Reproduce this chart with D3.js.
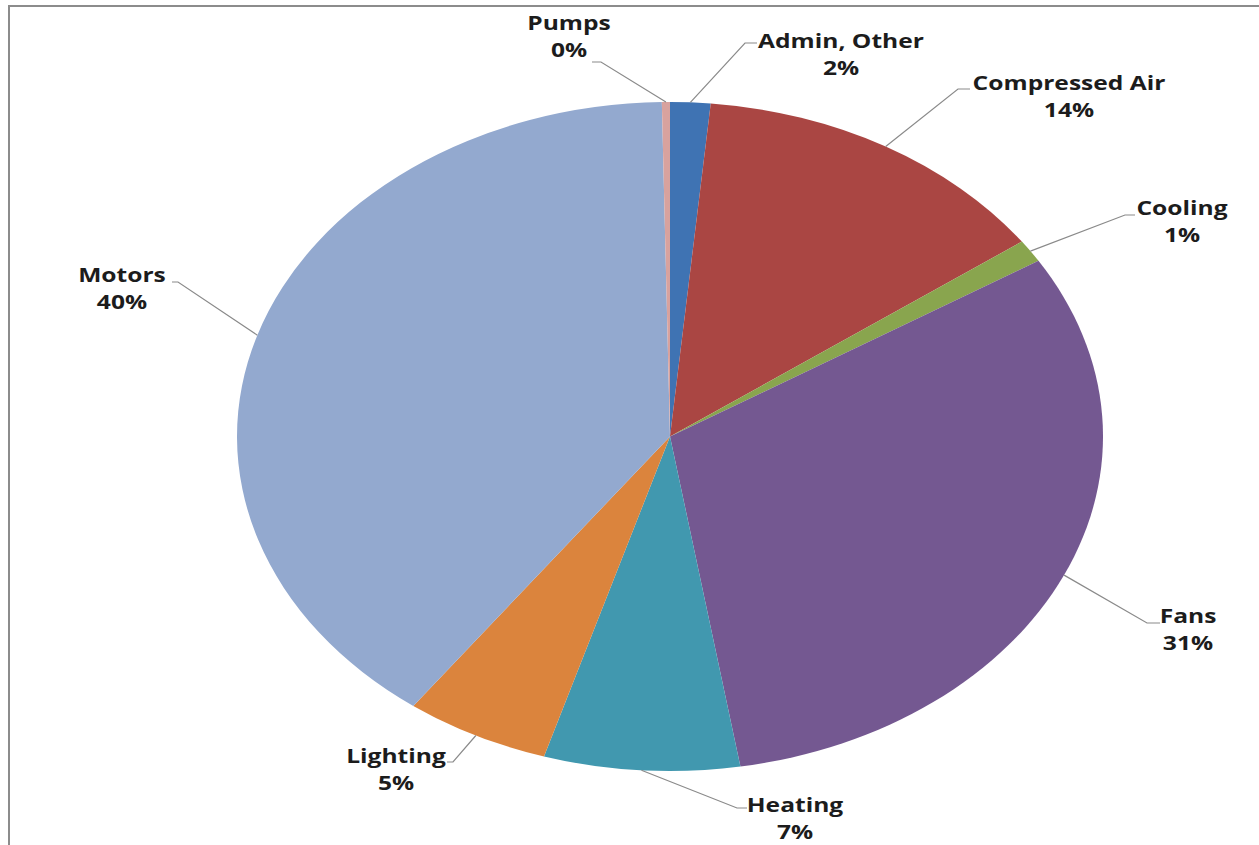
<!DOCTYPE html>
<html>
<head>
<meta charset="utf-8">
<script src="https://cdn.jsdelivr.net/npm/d3@7/dist/d3.min.js"></script>
<style>
  html, body { margin: 0; padding: 0; background: #fff; }
  svg { display: block; }
</style>
</head>
<body>
<svg id="chart" width="1259" height="845"></svg>
<script>
// ---- data ----
const categories = ["Admin, Other", "Compressed Air", "Cooling", "Fans", "Heating", "Lighting", "Motors", "Pumps"];
const values = [1.5, 13.6, 1.1, 31.2, 7.3, 5.4, 39.6, 0.3];
const colors = ["#3F73B3", "#AA4643", "#89A54E", "#745891", "#4198AF", "#DB843D", "#93A9CF", "#D8A29E"];

// ---- layout (label placement) ----
const labelLayout = {
  "Admin, Other":   { tx: 841,  ty: 48,  ex: 745,  ey: 43,  hx: 757 },
  "Compressed Air": { tx: 1069, ty: 90,  ex: 958,  ey: 89,  hx: 970 },
  "Cooling":        { tx: 1182, ty: 215, ex: 1125, ey: 215, hx: 1135 },
  "Fans":           { tx: 1188, ty: 623, ex: 1147, ey: 623, hx: 1160 },
  "Heating":        { tx: 795,  ty: 812, ex: 737,  ey: 808, hx: 747 },
  "Lighting":       { tx: 396,  ty: 763, ex: 453,  ey: 762, hx: 447 },
  "Motors":         { tx: 122,  ty: 282, ex: 178,  ey: 282, hx: 172 },
  "Pumps":          { tx: 569,  ty: 30,  ex: 601,  ey: 62,  hx: 592 }
};

const W = 1259, H = 845;
const cx = 670, cy = 436.5, rx = 433, ry = 334.5;
const sx = rx / ry;
const lineGap = 27;

const svg = d3.select("#chart");

// chart border
svg.append("rect")
  .attr("x", 9).attr("y", 6)
  .attr("width", W + 20).attr("height", H + 20)
  .attr("fill", "#fff")
  .attr("stroke", "#8c8c8c")
  .attr("stroke-width", 2);

const data = categories.map((c, i) => ({ name: c, value: values[i], color: colors[i] }));

const pie = d3.pie().sort(null).value(d => d.value).startAngle(0).endAngle(2 * Math.PI);
const arcs = pie(data);
const arc = d3.arc().innerRadius(0).outerRadius(ry);

const pieG = svg.append("g")
  .attr("transform", `translate(${cx},${cy}) scale(${sx},1)`);

pieG.selectAll("path")
  .data(arcs)
  .join("path")
  .attr("d", arc)
  .attr("fill", d => d.data.color);

// leader lines
const line = d3.line();
svg.append("g").selectAll("path")
  .data(arcs)
  .join("path")
  .attr("d", d => {
    const a = (d.startAngle + d.endAngle) / 2;
    const p0 = [cx + rx * Math.sin(a), cy - ry * Math.cos(a)];
    const L = labelLayout[d.data.name];
    return line([p0, [L.ex, L.ey], [L.hx, L.ey]]);
  })
  .attr("fill", "none")
  .attr("stroke", "#8a8a8a")
  .attr("stroke-width", 1.2);

// labels
const fmt = v => Math.round(v) + "%";
const labG = svg.append("g")
  .attr("font-family", "'Open Sans', sans-serif")
  .attr("font-weight", "bold")
  .attr("font-size", 19)
  .attr("fill", "#1c1c1c");

arcs.forEach(d => {
  const L = labelLayout[d.data.name];
  const g = labG.append("g")
    .attr("transform", `translate(${L.tx},${L.ty}) scale(${sx},1)`);
  g.append("text").attr("text-anchor", "middle").attr("y", 0).text(d.data.name);
  g.append("text").attr("text-anchor", "middle").attr("y", lineGap).text(fmt(d.data.value));
});
</script>
</body>
</html>
